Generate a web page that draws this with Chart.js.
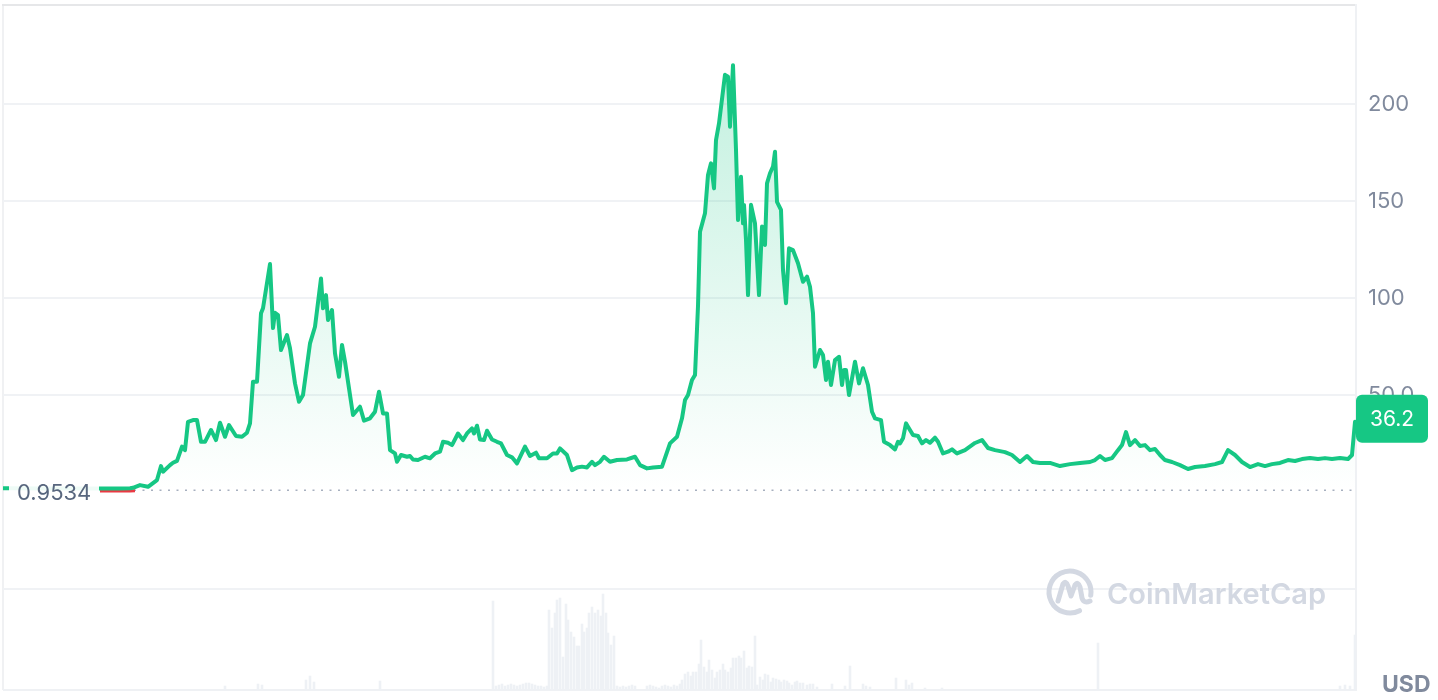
<!DOCTYPE html>
<html><head><meta charset="utf-8">
<script src="https://cdn.jsdelivr.net/npm/chart.js@4.4.1/dist/chart.umd.min.js"></script>
<style>html,body{margin:0;padding:0;background:#fff;}#wrap{position:relative;width:1438px;height:700px;}</style>
</head><body><div id="wrap"><canvas id="c"></canvas></div>
<script>
// ---- data ----
const days = [0,5,47,97,107,117,127,130,137,145,
154,158,160,167,170,174,179,182,185,190,
194,198,202,208,213,217,222,226,233,239,
244,247,250,254,258,260,267,270,272,275,
278,284,287,292,296,300,307,312,318,320,
323,325,329,332,336,339,342,350,357,361,
367,372,376,380,384,387,392,394,398,404,
407,410,415,422,427,432,437,440,445,449,
455,460,464,469,471,474,477,481,484,489,
494,498,504,509,514,522,527,533,536,544,
550,554,557,564,569,574,579,584,589,592,
597,601,607,614,624,632,637,644,650,659,
667,674,679,682,685,689,692,695,697,702,
705,708,711,713,716,722,725,727,730,733,
735,738,740,741,743,745,748,752,756,759,
762,764,767,770,772,774,778,780,783,786,
790,795,800,804,807,810,812,817,820,823,
825,828,832,836,839,841,843,846,852,856,
860,865,869,872,878,881,887,892,895,897,
900,903,905,910,915,919,923,927,932,935,
940,945,949,954,962,972,979,985,992,1002,
1009,1017,1024,1030,1037,1047,1057,1067,1077,1087,
1092,1097,1102,1109,1115,1119,1123,1127,1132,1137,
1142,1147,1152,1157,1162,1169,1177,1185,1192,1202,
1212,1219,1225,1232,1239,1247,1255,1262,1269,1277,
1285,1292,1299,1307,1315,1322,1329,1337,1345,1349,
1352];
const prices = [2.0,2.0,1.9,1.9,1.8,1.9,2.0,2.2,3.6,2.7,
6.2,13.4,10.5,13.9,15.1,16.1,23.4,21.6,36.2,37.1,
37.1,25.9,25.9,32,26.8,35.7,28.5,34.5,28.9,28.5,
30.6,35.4,56.9,56.9,92.1,94.7,117.5,84.5,92.4,91.2,
73.2,80.9,74.1,56,46.5,50,76.6,85.2,110.1,94.7,
101.5,88.7,93.8,71.5,59.4,75.8,67.2,39.7,44,36.8,
38,41.4,51.7,40.5,40.5,21.6,19.9,15.6,19.1,18.2,
18.6,16.8,16.5,18.2,17.4,19.9,20.8,25.9,25.4,24.2,
30.2,26.8,30.2,32.8,30.2,34.2,27.1,26.8,31.6,27.1,
25.9,25.1,19.1,17.9,14.8,23.4,18.6,20.3,17.4,17.4,
19.9,19.9,22.5,19.1,11.3,12.7,13.1,12.7,15.6,13.9,
15.6,18.2,15.6,16.5,16.8,18.2,13.9,12.2,12.7,13.1,
25.1,28.5,38,47.4,50,57.7,60.3,95.9,134.2,143.7,
163.4,169.4,156.5,181.4,190,215,214,188.3,220,176.3,
140.2,162.5,138.5,148,130,101.5,148,138.5,101.5,136.8,
127.3,159.1,164.3,167.7,175.4,149.6,145.4,114.4,97.3,125.6,
124.7,117.9,108.4,111,105.8,92.1,64.6,73.2,70.6,57.7,
67.2,55.2,68,69.7,55.2,62.9,62.9,50,67.2,56,
63.8,55.2,41.4,38,37.1,25.9,24.2,22,25.9,25.1,
27.7,35.4,33.7,29.4,28.9,25.1,26.8,25.4,28,25.9,
19.9,20.8,22,19.9,21.6,25.3,26.8,22.7,21.6,20.6,
19.1,15.5,18.6,15.5,15,15,13.4,14.4,15,15.5,
16.5,18.6,16.5,17.5,21.6,24.2,30.9,24.2,26.8,23.7,
24.2,21.6,22.2,19.1,16.5,15.5,13.9,11.9,12.9,13.4,
14.4,15.5,21.6,19.1,15.5,12.9,14.4,13.4,14.4,15,
16.5,16,17,17.5,17,17.5,17,17.5,17,19.1,
36.2];
const belowDays = [97,107,117,127,132];
const belowPrices = [0.6,0.55,0.55,0.6,0.65];
const volDays = [222,255,259,303,307,311,377,490,493,496,
499,502,505,508,511,514,517,520,523,526,
529,532,535,538,541,544,546,549,552,554,
557,560,563,565,568,571,574,576,579,581,
584,586,589,592,595,598,600,603,605,608,
611,614,617,620,623,626,629,632,644,647,
650,653,656,659,662,665,668,671,674,677,
679,682,685,688,690,693,696,698,701,704,
706,709,712,714,717,720,722,725,728,730,
733,736,738,741,744,746,749,752,754,757,
760,762,765,768,770,773,776,778,781,784,
786,789,792,794,797,800,804,807,810,814,
829,842,847,860,863,867,893,903,906,909,
922,939,1095,1337,1342,1347,1352];
const volumes = [2,3,2.5,5,7,4,4.5,44.5,2,2.5,
3,2,2.5,3,2.5,2,2.5,3,3.5,3.5,
3,2.5,2,2,1.5,2,40,31,38.5,45,
46,16.5,43,35,29,26.5,22,22,33,29,
31,38.5,41.5,38.5,40,37,48,38.5,28.5,22.5,
27,2,1.5,2,1.5,2,2.5,2,2,2.5,
2,1.5,1,2,2.5,2,1.5,2.5,2,3,
5,8,9,7,9,9,13,25,11.5,9,
15,10,6,9,10,13,10,9,11,16,
16,17,16,19.5,11,12,11.5,27,2.5,6.5,
5,8,7.5,4,6,5.5,5,4,5,4.5,
3.5,2.5,4,4.5,3.5,3.5,2.5,3,3,1.5,
3,2,12,3,2,1.5,6,5,2.5,3.5,
1,1,23.5,2,2.5,2,27.5];
const baseline = 0.9534;
const baselineLabel = '0.9534';
const lastPriceLabel = '36.2';
const yTickLabels = {50:'50.0',100:'100',150:'150',200:'200'};
const gridValues = [-50,50,100,150,200];
const currency = 'USD';
const watermark = 'CoinMarketCap';

// ---- chart ----
const GREEN = '#16c784', RED = '#ea3943', FONT = 'Inter';

const decor = {
  id: 'decor',
  beforeDraw(chart) {
    const {ctx, chartArea: a} = chart;
    ctx.save();
    ctx.fillStyle = '#ffffff';
    ctx.fillRect(0, 0, chart.width, chart.height);
    ctx.fillStyle = '#f0f1f3';
    ctx.fillRect(a.left - 1, a.top, 2, a.bottom - a.top);
    ctx.fillStyle = '#e6e7e9';
    ctx.fillRect(a.left - 1, a.top - 1, a.right - a.left + 1, 2);
    ctx.fillStyle = '#eff1f4';
    ctx.fillRect(a.left, a.bottom - 1, a.right - a.left, 2);
    ctx.restore();
  },
  beforeDatasetsDraw(chart) {
    const {ctx, chartArea: a, scales} = chart;
    ctx.save();
    // watermark logo + text
    ctx.strokeStyle = '#d3d8e2';
    ctx.lineWidth = 5;
    ctx.lineCap = 'round';
    ctx.lineJoin = 'round';
    const cx = 1070, cy = 592, r = 21;
    ctx.beginPath();
    ctx.arc(cx, cy, r, 0.35 * Math.PI, 2.05 * Math.PI, false);
    ctx.stroke();
    ctx.beginPath();
    ctx.moveTo(cx - 12, cy + 9);
    ctx.lineTo(cx - 7, cy - 8);
    ctx.quadraticCurveTo(cx - 4, cy - 12, cx - 2, cy - 6);
    ctx.lineTo(cx + 1, cy + 4);
    ctx.lineTo(cx + 5, cy - 7);
    ctx.quadraticCurveTo(cx + 8, cy - 11, cx + 10, cy - 5);
    ctx.lineTo(cx + 12, cy + 6);
    ctx.quadraticCurveTo(cx + 14, cy + 12, cx + 20, cy + 9);
    ctx.stroke();
    ctx.fillStyle = '#d3d8e2';
    ctx.font = '600 29px ' + FONT;
    ctx.textBaseline = 'alphabetic';
    ctx.textAlign = 'left';
    ctx.fillText(watermark, 1107, 604);
    // dotted baseline
    const by = scales.y.getPixelForValue(baseline);
    ctx.strokeStyle = '#a7b0bf';
    ctx.lineWidth = 1.6;
    ctx.lineCap = 'butt';
    ctx.setLineDash([2, 6.5]);
    ctx.beginPath();
    ctx.moveTo(100, by);
    ctx.lineTo(a.right, by);
    ctx.stroke();
    ctx.restore();
  },
  afterDatasetsDraw(chart) {
    const {ctx, chartArea: a, scales} = chart;
    ctx.save();
    const by = scales.y.getPixelForValue(baseline);
    // baseline label
    ctx.fillStyle = 'rgba(255,255,255,0.93)';
    ctx.fillRect(a.left + 6, by - 12, 90, 26);
    ctx.fillStyle = '#58667e';
    ctx.font = '22px ' + FONT;
    ctx.textBaseline = 'middle';
    ctx.textAlign = 'left';
    ctx.fillText(baselineLabel, a.left + 14, by + 3);
    // last price badge
    const py = scales.y.getPixelForValue(prices[prices.length - 1]) - 3;
    const bx = a.right, bw = 72, bh = 48;
    ctx.fillStyle = GREEN;
    ctx.beginPath();
    ctx.roundRect(bx, py - bh / 2, bw, bh, 6);
    ctx.fill();
    ctx.fillStyle = '#ffffff';
    ctx.font = '21px ' + FONT;
    ctx.textAlign = 'center';
    ctx.fillText(lastPriceLabel, bx + bw / 2, py + 1);
    // currency
    ctx.fillStyle = '#808a9d';
    ctx.font = 'bold 23px ' + FONT;
    ctx.textAlign = 'left';
    ctx.textBaseline = 'alphabetic';
    ctx.fillText(currency, 1382, 692);
    ctx.restore();
  }
};

const ctx = document.getElementById('c');
new Chart(ctx, {
  type: 'line',
  data: {
    datasets: [
      {
        label: 'Price',
        data: days.map((d, i) => ({x: d, y: prices[i]})),
        borderColor: GREEN,
        borderWidth: 4,
        borderJoinStyle: 'round',
        borderCapStyle: 'round',
        pointRadius: 0,
        tension: 0,
        order: 1,
        yAxisID: 'y',
        backgroundColor: (c) => {
          const chart = c.chart, a = chart.chartArea;
          if (!a || !chart.scales.y) return 'rgba(22,199,132,0.08)';
          const g = chart.ctx.createLinearGradient(0, a.top + 60, 0, chart.scales.y.getPixelForValue(baseline));
          g.addColorStop(0, 'rgba(22,199,132,0.26)');
          g.addColorStop(1, 'rgba(22,199,132,0.0)');
          return g;
        },
        fill: {target: {value: baseline}, below: 'rgba(0,0,0,0)'}
      },
      {
        label: 'Below',
        data: belowDays.map((d, i) => ({x: d, y: belowPrices[i]})),
        borderColor: RED,
        borderWidth: 3,
        pointRadius: 0,
        fill: false,
        order: 2,
        yAxisID: 'y'
      },
      {
        type: 'bar',
        label: 'Volume',
        data: volDays.map((d, i) => ({x: d, y: volumes[i]})),
        backgroundColor: '#eef1f5',
        barThickness: 2,
        grouped: false,
        order: 3,
        yAxisID: 'y2'
      }
    ]
  },
  options: {
    responsive: true,
    maintainAspectRatio: false,
    animation: false,
    layout: {padding: {left: 3, top: 5, bottom: 10, right: 0}},
    plugins: {legend: {display: false}, tooltip: {enabled: false}},
    scales: {
      x: {type: 'linear', min: 0, max: 1353, display: false, offset: false},
      y: {
        position: 'right',
        min: -102, max: 251,
        afterFit(s) { s.width = 82; s.paddingTop = 0; s.paddingBottom = 0; },
        ticks: {
          stepSize: 50,
          autoSkip: false,
          padding: 12,
          color: '#808a9d',
          font: {family: FONT, size: 22},
          callback: (v) => yTickLabels[v] || ''
        },
        grid: {
          drawTicks: false,
          lineWidth: 2,
          color: (c) => gridValues.includes(c.tick && c.tick.value) ? '#f0f2f5' : 'rgba(0,0,0,0)'
        },
        border: {display: true, color: '#eff1f4', width: 2}
      },
      y2: {display: false, min: 0, max: 342.5}
    }
  },
  plugins: [decor]
});
</script></body></html>
